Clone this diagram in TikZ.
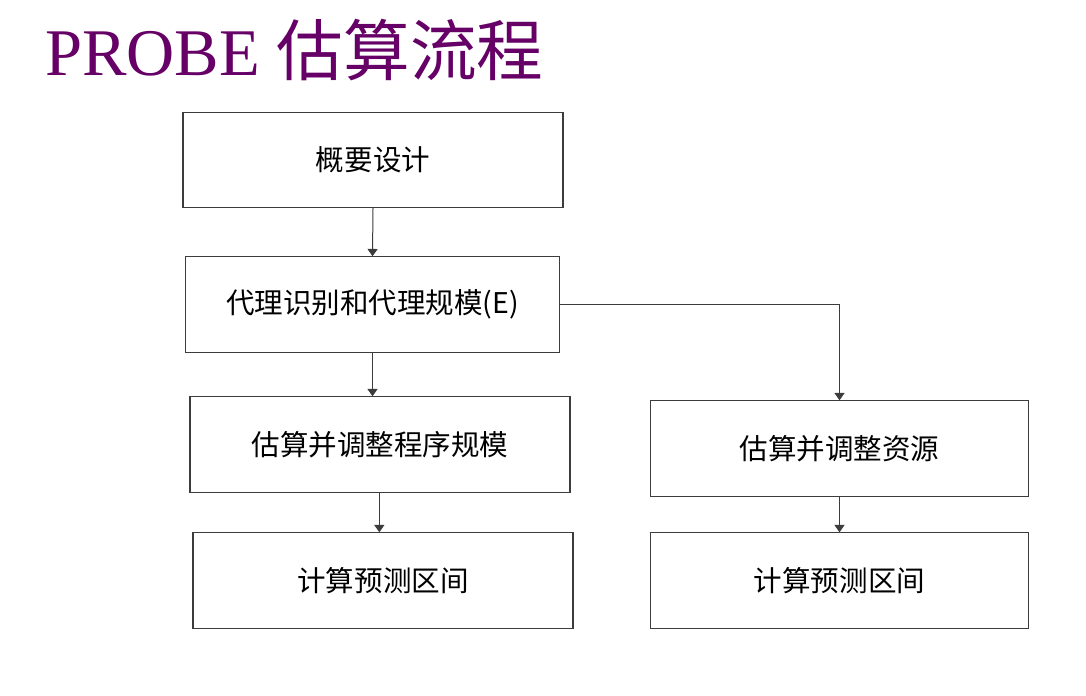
\documentclass[tikz,border=0pt]{standalone}
\usepackage{fontspec}
\setmainfont{Liberation Serif}
\newfontfamily\cjk{Noto Sans CJK SC}
\usepackage{xcolor}
\usetikzlibrary{arrows.meta}
\definecolor{titlepurple}{RGB}{102,0,102}
\definecolor{linegray}{RGB}{60,60,60}
\tikzset{
  stepbox/.style={draw=linegray, line width=0.8pt, minimum width=285pt, minimum height=71.5pt, inner sep=0pt, font=\cjk\fontsize{21.4}{24}\selectfont},
  flow/.style={draw=linegray, line width=0.75pt, -{Triangle[width=7.5pt,length=5.5pt]}}
}
\begin{document}
\begin{tikzpicture}[x=0.75pt,y=0.75pt,yscale=-1,xscale=1]
    \useasboundingbox (0,0) rectangle (1086,696);
    % title
    \node (title) at (45,50) [anchor=west, inner sep=0pt, text=titlepurple] {\fontsize{50}{58}\selectfont PROBE {\cjk\fontsize{50}{58}\selectfont 估算流程}};

    % boxes
    \node (design) at (373,160) [stepbox] {概要设计};
    \node (proxy) at (372.5,304.5) [stepbox, minimum width=280pt] {代理识别和代理规模(E)};
    \node (size) at (380,444.5) [stepbox] {估算并调整程序规模};
    \node (rangeL) at (383,580.5) [stepbox] {计算预测区间};
    \node (res) at (839.5,448.5) [stepbox, minimum width=284pt] {估算并调整资源};
    \node (rangeR) at (839.5,580.5) [stepbox, minimum width=284pt] {计算预测区间};

    % connectors
    \draw [flow] (design.south) -- (proxy.north);
    \draw [flow] (proxy.south) -- (proxy.south |- size.north);
    \draw [flow] ([xshift=-0.5pt]size.south) -- ([xshift=-0.5pt]size.south |- rangeL.north);
    \draw [flow] (proxy.east) -| (res.north);
    \draw [flow] (res.south) -- (rangeR.north);
\end{tikzpicture}
\end{document}
